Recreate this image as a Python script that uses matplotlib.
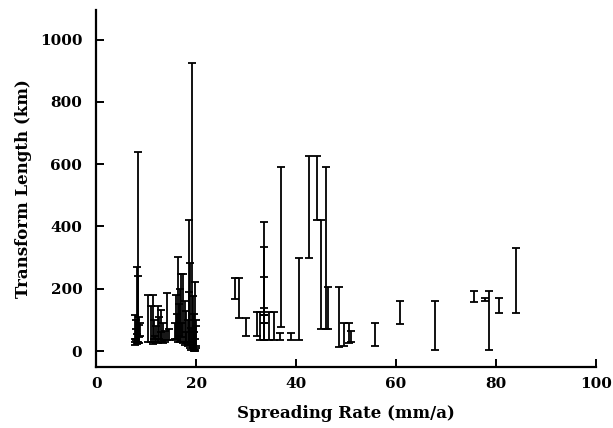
import matplotlib
matplotlib.use('Agg')
import matplotlib.pyplot as plt
import numpy as np

# spreading rate (mm/a) and transform length range (km): low, high
rate = [8.4, 8.1, 8.3, 7.8, 8.0, 8.5, 7.9, 8.2, 8.6, 7.7, 8.7,
        11.3, 11.0, 12.3, 12.9, 13.4, 14.2, 11.6, 12.0, 13.0, 11.8, 14.6, 10.4,
        12.6, 13.7,
        16.4, 17.0, 17.4, 18.5, 19.1, 18.7, 19.7, 19.3, 15.9, 16.2, 16.8, 17.7,
        18.0, 18.3, 19.5, 19.9, 20.0, 19.6, 17.2, 16.6, 18.9, 15.7, 17.9,
        19.8, 18.6,
        27.8, 28.6, 30.0, 32.1, 32.8, 33.6, 34.6, 35.5, 37.0, 36.8, 39.0,
        40.5, 42.5, 44.1, 44.9, 46.0, 46.3, 48.6, 49.6, 50.5, 51.0,
        55.8, 60.9, 67.9, 75.6, 77.8, 78.6, 80.6, 84.0]
length_lo = [26, 22, 28, 30, 40, 25, 35, 30, 45, 20, 50,
             22, 30, 25, 30, 25, 36, 40, 30, 35, 28, 36, 30,
             40, 30,
             30, 30, 25, 20, 20, 10, 0, 10, 35, 40, 30, 20,
             30, 15, 5, 10, 15, 0, 45, 50, 5, 40, 25,
             5, 30,
             168, 106, 47, 47, 36, 36, 36, 36, 79, 36, 36,
             36, 299, 420, 72, 72, 72, 13, 15, 25, 30,
             18, 88, 4, 157, 160, 4, 122, 122]
length_hi = [640, 269, 242, 117, 101, 85, 70, 55, 110, 40, 90,
             180, 144, 144, 133, 90, 185, 100, 80, 60, 50, 70, 180,
             110, 65,
             302, 249, 249, 420, 924, 283, 223, 176, 180, 120, 200, 160,
             130, 100, 120, 100, 80, 60, 90, 150, 75, 90, 60,
             40, 190,
             235, 235, 106, 124, 124, 414, 124, 124, 591, 58, 58,
             299, 627, 627, 420, 591, 206, 206, 90, 90, 65,
             90, 160, 160, 192, 170, 192, 170, 332]
# extra caps along the tall bar at 33.6
inner_x = [33.6, 33.6, 33.6, 33.6, 33.6]
inner_lo = [117, 90, 36, 36, 36]
inner_hi = [335, 237, 138, 117, 90]

plt.rcParams['font.family'] = 'DejaVu Serif'
plt.rcParams['font.weight'] = 'bold'

fig = plt.figure(figsize=(6.13, 4.28), dpi=100)
ax = fig.add_axes([0.157, 0.1425, 0.815, 0.835])

x = np.array(rate + inner_x)
lo = np.array(length_lo + inner_lo)
hi = np.array(length_hi + inner_hi)
mid = (lo + hi) / 2
half = (hi - lo) / 2
ax.errorbar(x, mid, yerr=half, fmt='none', ecolor='black',
            elinewidth=1.3, capsize=3.0, capthick=1.3)

ax.set_xlim(0, 100)
ax.set_ylim(-51, 1096)
ax.set_xticks([0, 20, 40, 60, 80, 100])
ax.set_yticks([0, 200, 400, 600, 800, 1000])
ax.spines['top'].set_visible(False)
ax.spines['right'].set_visible(False)
ax.spines['left'].set_linewidth(1.6)
ax.spines['bottom'].set_linewidth(1.6)
ax.tick_params(direction='in', length=6, width=1.4, labelsize=11)
ax.tick_params(axis='y', pad=10)
ax.tick_params(axis='x', pad=7)
ax.set_xlabel('Spreading Rate (mm/a)', fontsize=12, fontweight='bold', labelpad=10)
ax.set_ylabel('Transform Length (km)', fontsize=12, fontweight='bold', labelpad=6)

fig.savefig('out.png', dpi=100)
